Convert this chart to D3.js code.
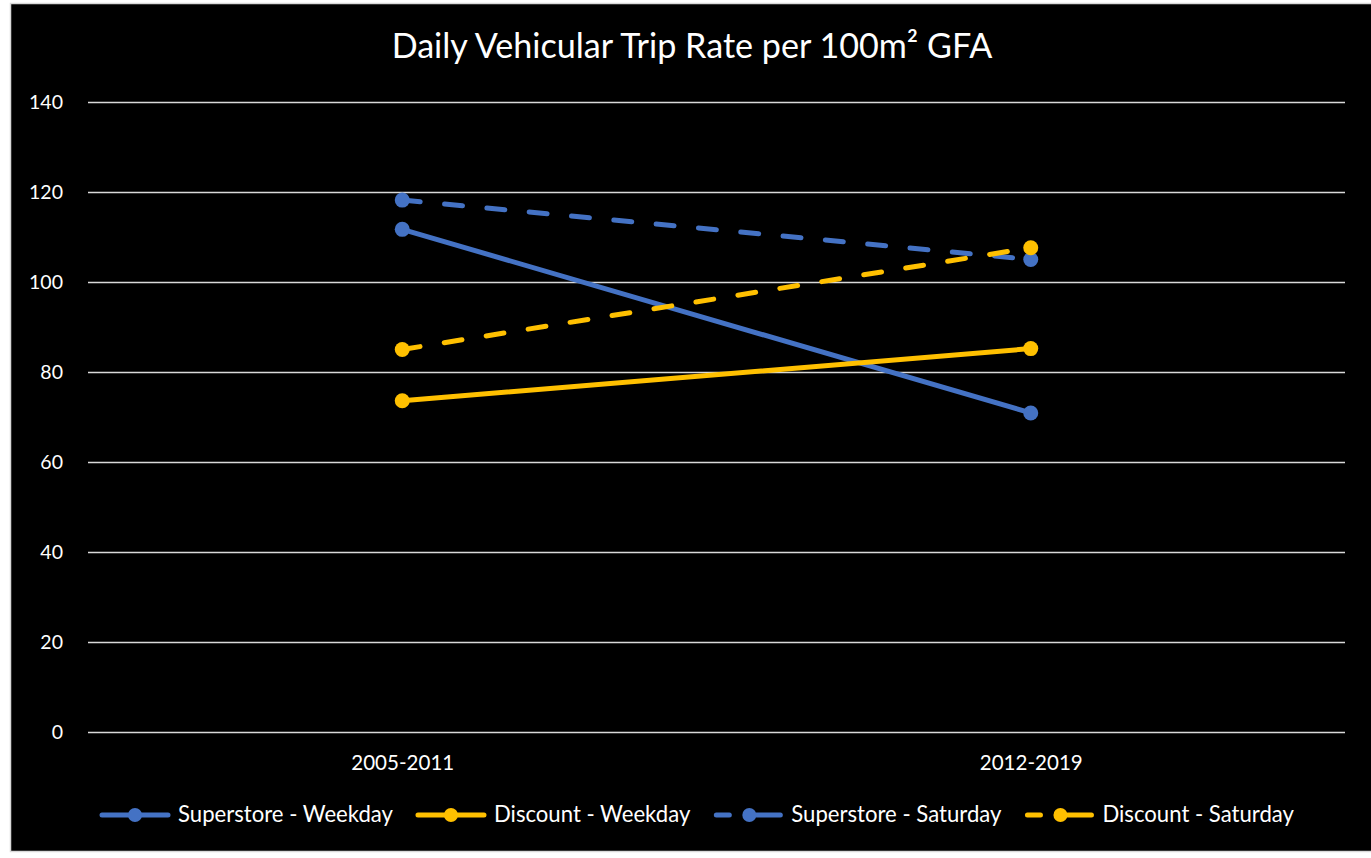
<!DOCTYPE html>
<html>
<head>
<meta charset="utf-8">
<script src="https://cdn.jsdelivr.net/npm/d3@7"></script>
<style>
  html, body { margin: 0; padding: 0; background: #ffffff; }
  svg { display: block; }
  text { font-family: Lato, "Open Sans", sans-serif; fill: #ffffff; }
</style>
</head>
<body>
<svg id="chart" width="1371" height="858"></svg>
<script>
// ---- Data ----
const categories = ["2005-2011", "2012-2019"];
const seriesNames = ["Superstore - Weekday", "Discount - Weekday", "Superstore - Saturday", "Discount - Saturday"];
const superstoreWeekday = [111.7, 70.9];
const discountWeekday = [73.6, 85.2];
const superstoreSaturday = [118.2, 105.0];
const discountSaturday = [85.0, 107.6];
const yTicks = [0, 20, 40, 60, 80, 100, 120, 140];
const titleText = "Daily Vehicular Trip Rate per 100m² GFA";

const seriesValues = [superstoreWeekday, discountWeekday, superstoreSaturday, discountSaturday];
const seriesColors = ["#4472C4", "#FFC000", "#4472C4", "#FFC000"];
const seriesDashed = [false, false, true, true];

const svg = d3.select("#chart");

// frame
svg.append("rect")
  .attr("x", 10.5).attr("y", 3.5)
  .attr("width", 1372).attr("height", 848)
  .attr("fill", "#000000")
  .attr("stroke", "#d9d9d9").attr("stroke-width", 1.5);

function fitText(sel, targetWidth) {
  const node = sel.node();
  const fs = parseFloat(sel.attr("font-size"));
  const w = node.getComputedTextLength();
  if (w > 0) sel.attr("font-size", (fs * targetWidth / w).toFixed(2));
}

const plotLeft = 88, plotRight = 1345, plotTop = 102, plotBottom = 732;

const x = d3.scalePoint().domain(categories).range([plotLeft, plotRight]).padding(0.5);
const y = d3.scaleLinear().domain([0, 140]).range([plotBottom, plotTop]);

// title
const title = svg.append("text")
  .attr("x", 692).attr("y", 58)
  .attr("text-anchor", "middle")
  .attr("font-size", 26)
  .text(titleText);
fitText(title, 601);

// gridlines + y axis labels
const yAxis = d3.axisLeft(y).tickValues(yTicks).tickSize(-(plotRight - plotLeft)).tickPadding(25);
const gy = svg.append("g").attr("transform", `translate(${plotLeft},0)`).call(yAxis);
gy.select(".domain").remove();
gy.selectAll(".tick line").attr("stroke", "#d9d9d9").attr("stroke-width", 1.3);
const yLabels = gy.selectAll(".tick text").attr("fill", "#ffffff").attr("font-size", 17)
  .style("font-family", "Lato, 'Open Sans', sans-serif");
// size to match reference width of "140"
let w140 = 0;
yLabels.each(function(d) { if (d === 140) w140 = this.getComputedTextLength(); });
const yfs = 17 * 34 / w140;
yLabels.attr("font-size", yfs.toFixed(2));

// x axis labels
const xAxis = d3.axisBottom(x).tickSize(0).tickPadding(23);
const gx = svg.append("g").attr("transform", `translate(0,${plotBottom})`).call(xAxis);
gx.select(".domain").remove();
const xLabels = gx.selectAll(".tick text").attr("fill", "#ffffff").attr("font-size", 17)
  .style("font-family", "Lato, 'Open Sans', sans-serif");
const wx = xLabels.node().getComputedTextLength();
xLabels.attr("font-size", (17 * 103 / wx).toFixed(2));

const DASH = "18 24.5";
const line = d3.line().x((d, i) => x(categories[i])).y(d => y(d));

seriesValues.forEach((vals, si) => {
  const g = svg.append("g");
  g.append("path")
    .attr("d", line(vals))
    .attr("fill", "none")
    .attr("stroke", seriesColors[si])
    .attr("stroke-width", 5)
    .attr("stroke-linecap", "round")
    .attr("stroke-dasharray", seriesDashed[si] ? DASH : null);
  g.selectAll("circle").data(vals).enter().append("circle")
    .attr("cx", (d, i) => x(categories[i]))
    .attr("cy", d => y(d))
    .attr("r", 7.5)
    .attr("fill", seriesColors[si]);
});

// legend
const legendY = 815;
const lineLen = 70, textOff = 8, itemGap = 23;
const legend = svg.append("g");
const items = seriesNames.map((name, si) => {
  const g = legend.append("g");
  const t = g.append("text").attr("x", lineLen + textOff).attr("y", 6.5)
    .attr("font-size", 18.5).text(name);
  return { g, t, si };
});
const refW = items[0].t.node().getComputedTextLength();
const lfs = 18.5 * 215 / refW;
items.forEach(it => it.t.attr("font-size", lfs.toFixed(2)));
const widths = items.map(it => lineLen + textOff + it.t.node().getComputedTextLength());
const total = d3.sum(widths) + itemGap * (items.length - 1);
let cx0 = 697 - total / 2;
items.forEach((it, k) => {
  it.g.attr("transform", `translate(${cx0},${legendY})`);
  const si = it.si;
  if (seriesDashed[si]) {
    it.g.insert("line", "text").attr("x1", 3).attr("x2", 16).attr("y1", 0).attr("y2", 0)
      .attr("stroke", seriesColors[si]).attr("stroke-width", 5).attr("stroke-linecap", "round");
    it.g.insert("line", "text").attr("x1", 43).attr("x2", lineLen - 3).attr("y1", 0).attr("y2", 0)
      .attr("stroke", seriesColors[si]).attr("stroke-width", 5).attr("stroke-linecap", "round");
  } else {
    it.g.insert("line", "text").attr("x1", 2).attr("x2", lineLen - 2).attr("y1", 0).attr("y2", 0)
      .attr("stroke", seriesColors[si]).attr("stroke-width", 5).attr("stroke-linecap", "round");
  }
  it.g.insert("circle", "text").attr("cx", seriesDashed[si] ? 36 : lineLen / 2).attr("cy", 0).attr("r", 7)
    .attr("fill", seriesColors[si]);
  cx0 += widths[k] + itemGap;
});
</script>
</body>
</html>
